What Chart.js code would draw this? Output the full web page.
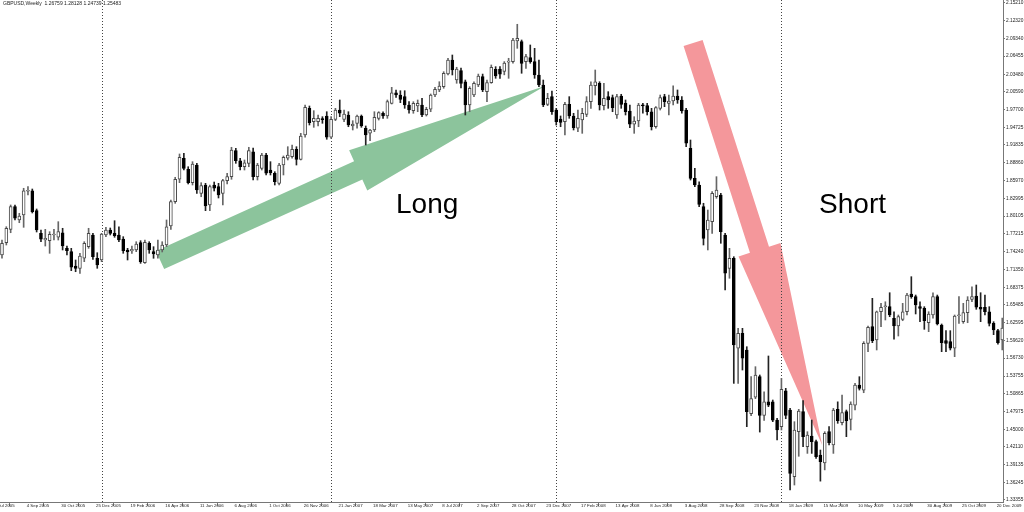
<!DOCTYPE html>
<html>
<head>
<meta charset="utf-8">
<script src="https://cdn.jsdelivr.net/npm/chart.js@4.4.1/dist/chart.umd.min.js"></script>
<style>
  html, body { margin: 0; padding: 0; background: #fff; }
  #wrap { width: 1024px; height: 512px; }
</style>
</head>
<body>
<div id="wrap"><canvas id="grafico" width="1024" height="512"></canvas></div>
<script>
// GBPUSD weekly bars, index 0 = week of 24 Jul 2005
var opens = [
  1.7370,1.7573,1.7793,1.8166,1.7947,1.8029,1.8420,1.8429,1.8100,1.7727,
  1.7617,1.7606,1.7700,1.7662,1.7737,1.7480,1.7425,1.7189,1.7151,1.7316,
  1.7507,1.7700,1.7316,1.7288,1.7700,1.7782,1.7727,1.7700,1.7634,1.7453,
  1.7436,1.7453,1.7573,1.7243,1.7563,1.7425,1.7370,1.7453,1.7535,1.7848,
  1.8248,1.8617,1.8963,1.8782,1.8561,1.8852,1.8386,1.8523,1.8194,1.8523,
  1.8495,1.8386,1.8594,1.8660,1.9088,1.8923,1.8824,1.8880,1.9071,1.8660,
  1.8798,1.9017,1.8770,1.8716,1.8551,1.8852,1.8963,1.8989,1.9111,1.8946,
  1.9347,1.9786,1.9566,1.9566,1.9610,1.9659,1.9309,1.9605,1.9758,1.9605,
  1.9676,1.9495,1.9539,1.9659,1.9457,1.9375,1.9429,1.9621,1.9704,1.9659,
  1.9868,2.0043,2.0005,1.9978,1.9841,1.9747,1.9824,1.9841,1.9676,1.9770,
  2.0005,2.0088,2.0143,2.0352,2.0582,2.0252,2.0406,2.0224,1.9841,2.0005,
  2.0170,2.0307,2.0060,2.0208,2.0429,2.0434,2.0392,2.0544,2.0555,2.0895,
  2.0883,2.0555,2.0620,2.0555,2.0335,2.0170,1.9852,1.9978,1.9758,1.9610,
  1.9566,1.9852,1.9659,1.9457,1.9594,1.9687,1.9895,2.0158,2.0198,1.9829,
  1.9978,1.9962,1.9676,1.9989,1.9868,1.9742,1.9523,1.9577,1.9841,1.9830,
  1.9730,1.9483,1.9786,1.9978,1.9868,1.9906,1.9989,1.9923,1.9758,1.9127,
  1.8633,1.8523,1.8166,1.7782,1.7919,1.8331,1.8358,1.7700,1.7151,1.7316,
  1.5834,1.6081,1.5806,1.4757,1.5029,1.5366,1.4729,1.4952,1.4952,1.4652,
  1.4543,1.5135,1.4817,1.3720,1.4460,1.4790,1.4213,1.4390,1.4296,1.4076,
  1.3944,1.4460,1.4241,1.4829,1.4608,1.4790,1.4664,1.4899,1.5229,1.5146,
  1.5916,1.6190,1.5970,1.6436,1.6518,1.6520,1.6328,1.6201,1.6311,1.6436,
  1.6728,1.6684,1.6519,1.6492,1.6255,1.6382,1.6684,1.6218,1.5959,1.5943,
  1.5834,1.6370,1.6272,1.6420,1.6640,1.6695,1.6509,1.6509,1.6436,1.6245,
  1.6124,1.5970
];
var highs = [
  1.7617,1.7836,1.8194,1.8194,1.8057,1.8469,1.8495,1.8457,1.8128,1.7782,
  1.7793,1.7754,1.7793,1.7919,1.7810,1.7518,1.7480,1.7288,1.7398,1.7589,
  1.7810,1.7727,1.7408,1.7727,1.7826,1.7815,1.7935,1.7836,1.7672,1.7480,
  1.7518,1.7589,1.7606,1.7617,1.7589,1.7507,1.7617,1.7589,1.7947,1.8276,
  1.8650,1.9034,1.9045,1.8824,1.8907,1.8880,1.8561,1.8551,1.8523,1.8572,
  1.8551,1.8617,1.8716,1.9144,1.9127,1.8963,1.8935,1.9144,1.9132,1.8880,
  1.9045,1.9045,1.8907,1.8742,1.8880,1.9001,1.9154,1.9182,1.9154,1.9374,
  1.9841,1.9824,1.9747,1.9676,1.9648,1.9730,1.9648,1.9786,1.9923,1.9758,
  1.9730,1.9582,1.9676,1.9676,1.9495,1.9440,1.9730,1.9730,1.9730,1.9923,
  2.0132,2.0088,2.0076,2.0076,1.9895,1.9895,1.9923,1.9951,1.9803,2.0022,
  2.0132,2.0224,2.0389,2.0610,2.0664,2.0462,2.0450,2.0252,2.0142,2.0224,
  2.0350,2.0350,2.0252,2.0500,2.0472,2.0472,2.0555,2.0610,2.0939,2.1170,
  2.0911,2.0676,2.0829,2.0774,2.0582,2.0252,2.0033,2.0071,1.9786,1.9660,
  1.9885,1.9978,1.9704,1.9758,1.9786,1.9978,2.0224,2.0417,2.0224,2.0198,
  2.0060,2.0005,2.0017,2.0017,1.9923,1.9841,1.9648,1.9868,1.9868,1.9868,
  1.9786,1.9813,2.0005,2.0017,2.0005,2.0158,2.0088,1.9978,1.9786,1.9264,
  1.8798,1.8577,1.8222,1.8111,1.8413,1.8660,1.8386,1.7727,1.7480,1.7342,
  1.6163,1.6163,1.5860,1.5366,1.5531,1.5394,1.5118,1.5707,1.4982,1.4680,
  1.5338,1.5174,1.4844,1.4625,1.4829,1.4971,1.4460,1.4652,1.4323,1.4158,
  1.4460,1.4543,1.4844,1.4952,1.5064,1.4817,1.4952,1.5257,1.5366,1.5943,
  1.6201,1.6657,1.6447,1.6574,1.6600,1.6749,1.6436,1.6382,1.6574,1.6739,
  1.7013,1.6711,1.6600,1.6519,1.6436,1.6749,1.6711,1.6234,1.6124,1.6124,
  1.6382,1.6684,1.6574,1.6684,1.6848,1.6876,1.6749,1.6711,1.6519,1.6272,
  1.6146,1.6333
];
var lows = [
  1.7316,1.7535,1.7737,1.7947,1.7902,1.7826,1.8358,1.8062,1.7749,1.7589,
  1.7518,1.7398,1.7617,1.7617,1.7453,1.7370,1.7112,1.7095,1.7068,1.7260,
  1.7480,1.7299,1.7151,1.7260,1.7672,1.7700,1.7662,1.7589,1.7398,1.7288,
  1.7398,1.7425,1.7233,1.7233,1.7398,1.7316,1.7316,1.7420,1.7507,1.7793,
  1.8221,1.8561,1.8770,1.8540,1.8523,1.8386,1.8330,1.8100,1.8100,1.8424,
  1.8309,1.8194,1.8540,1.8617,1.8880,1.8770,1.8770,1.8824,1.8605,1.8605,
  1.8770,1.8688,1.8688,1.8523,1.8523,1.8688,1.8935,1.8963,1.8852,1.8935,
  1.9309,1.9511,1.9473,1.9495,1.9539,1.9276,1.9292,1.9583,1.9648,1.9566,
  1.9483,1.9429,1.9457,1.9473,1.9182,1.9253,1.9401,1.9593,1.9621,1.9621,
  1.9857,1.9967,1.9879,1.9786,1.9704,1.9704,1.9730,1.9648,1.9659,1.9730,
  1.9978,2.0060,2.0116,2.0335,2.0335,2.0198,2.0121,1.9676,1.9730,1.9978,
  2.0142,2.0060,1.9895,2.0198,2.0280,2.0280,2.0337,2.0280,2.0528,2.0774,
  2.0363,2.0445,2.0528,2.0280,2.0142,1.9813,1.9829,1.9687,1.9511,1.9483,
  1.9347,1.9621,1.9429,1.9401,1.9374,1.9648,1.9786,2.0005,1.9758,1.9758,
  1.9786,1.9730,1.9621,1.9786,1.9676,1.9467,1.9374,1.9483,1.9704,1.9676,
  1.9429,1.9457,1.9758,1.9813,1.9676,1.9841,1.9868,1.9704,1.9154,1.8605,
  1.8495,1.8166,1.7535,1.7453,1.7727,1.8304,1.7563,1.6794,1.6987,1.5256,
  1.5256,1.5476,1.4543,1.4725,1.5004,1.4454,1.4647,1.4872,1.4625,1.4323,
  1.4488,1.4674,1.3500,1.3582,1.4055,1.4213,1.4103,1.4103,1.4021,1.3646,
  1.3831,1.4241,1.4103,1.4598,1.4570,1.4378,1.4488,1.4817,1.5146,1.5102,
  1.5778,1.5926,1.5806,1.6190,1.6300,1.6354,1.5982,1.6036,1.6288,1.6382,
  1.6657,1.6399,1.6272,1.6146,1.6107,1.6328,1.6218,1.5778,1.5778,1.5806,
  1.5696,1.6245,1.6245,1.6255,1.6600,1.6476,1.6272,1.6382,1.6201,1.6058,
  1.5901,1.5806
];
var closes = [
  1.7563,1.7810,1.8166,1.7975,1.8012,1.8429,1.8435,1.8083,1.7782,1.7629,
  1.7645,1.7711,1.7712,1.7754,1.7518,1.7441,1.7168,1.7151,1.7354,1.7563,
  1.7727,1.7342,1.7206,1.7716,1.7782,1.7727,1.7688,1.7617,1.7441,1.7420,
  1.7464,1.7551,1.7260,1.7579,1.7453,1.7387,1.7453,1.7535,1.7836,1.8248,
  1.8617,1.8979,1.8798,1.8561,1.8869,1.8441,1.8512,1.8177,1.8495,1.8469,
  1.8358,1.8594,1.8660,1.9100,1.8923,1.8824,1.8890,1.9088,1.8660,1.8852,
  1.9017,1.8716,1.8726,1.8577,1.8852,1.8979,1.9017,1.9111,1.8946,1.9330,
  1.9803,1.9549,1.9622,1.9622,1.9600,1.9309,1.9605,1.9758,1.9704,1.9692,
  1.9511,1.9528,1.9659,1.9495,1.9347,1.9429,1.9638,1.9714,1.9659,1.9895,
  2.0043,2.0005,1.9934,1.9841,1.9758,1.9868,1.9868,1.9676,1.9770,2.0005,
  2.0099,2.0154,2.0363,2.0582,2.0417,2.0434,2.0198,1.9841,2.0116,2.0198,
  2.0318,2.0088,2.0208,2.0462,2.0319,2.0347,2.0529,2.0565,2.0911,2.0939,
  2.0527,2.0636,2.0555,2.0335,2.0170,1.9841,1.9951,1.9730,1.9566,1.9555,
  1.9852,1.9659,1.9466,1.9621,1.9704,1.9895,2.0170,2.0224,1.9841,1.9951,
  1.9923,1.9796,1.9978,1.9852,1.9730,1.9523,1.9577,1.9841,1.9825,1.9730,
  1.9483,1.9796,1.9961,1.9895,1.9906,1.9989,1.9923,1.9742,1.9210,1.8633,
  1.8523,1.8205,1.7645,1.7947,1.8386,1.8441,1.7754,1.7069,1.7316,1.5888,
  1.6081,1.5669,1.4790,1.5004,1.5394,1.4729,1.4952,1.4899,1.4652,1.4488,
  1.5157,1.4729,1.3775,1.4488,1.4801,1.4378,1.4406,1.4296,1.4049,1.3966,
  1.4433,1.4279,1.4817,1.4641,1.4773,1.4641,1.4916,1.5229,1.5174,1.5916,
  1.6179,1.5959,1.6436,1.6509,1.6520,1.6382,1.6201,1.6354,1.6436,1.6711,
  1.6684,1.6547,1.6492,1.6288,1.6399,1.6684,1.6234,1.5926,1.5916,1.5834,
  1.6366,1.6380,1.6420,1.6629,1.6684,1.6509,1.6476,1.6436,1.6245,1.6135,
  1.5926,1.6168
];

// date labels, one every 8 weeks starting 2 weeks before bar 0
var tickDates = [
  "10 Jul 2005","4 Sep 2005","30 Oct 2005","25 Dec 2005","19 Feb 2006","16 Apr 2006",
  "11 Jun 2006","6 Aug 2006","1 Oct 2006","26 Nov 2006","21 Jan 2007","18 Mar 2007",
  "13 May 2007","8 Jul 2007","2 Sep 2007","28 Oct 2007","23 Dec 2007","17 Feb 2008",
  "13 Apr 2008","8 Jun 2008","3 Aug 2008","28 Sep 2008","23 Nov 2008","18 Jan 2009",
  "15 Mar 2009","10 May 2009","5 Jul 2009","30 Aug 2009","25 Oct 2009","20 Dec 2009"
];
var firstTickWeek = -2;
var tickStep = 8;

// price labels on the right axis
var priceTicks = [
  "2.15210","2.12320","2.09340","2.06455","2.03480","2.00590","1.97700","1.94725",
  "1.91835","1.88860","1.85970","1.82995","1.80105","1.77215","1.74240","1.71350",
  "1.68375","1.65485","1.62595","1.59620","1.56730","1.53755","1.50865","1.47975",
  "1.45000","1.42110","1.39135","1.36245","1.33355"
];

// first bar of each new year (period separators)
var yearStarts = [23, 76, 128, 180];

// hand drawn arrows and labels, in [week, price]
var arrowLong = { from: [36.5, 1.7288], to: [125.4, 2.0154], color: "#8cc49c" };
var arrowShort = { from: [159.6, 2.0862], to: [189.4, 1.4241], color: "#f4979b" };
var textLong = { text: "Long", at: [91.0, 1.8062] };
var textShort = { text: "Short", at: [188.7, 1.8062] };

var titleText = "GBPUSD,Weekly  1.26759 1.28128 1.24739 1.25483";

var bodies = [], wicks = [], bodyFill = [], bodyEdge = [], wickColor = [];
for (var i = 0; i < opens.length; i++) {
  var up = closes[i] >= opens[i];
  bodies.push({ x: i, y: [opens[i], closes[i]] });
  wicks.push({ x: i, y: [lows[i], highs[i]] });
  bodyFill.push(up ? "#ffffff" : "#000000");
  bodyEdge.push(up ? "#4a4a4a" : "#000000");
  wickColor.push(up ? "#666666" : "#222222");
}

function drawArrow(ctx, p0, p1, shaftHalf, headHalf, headLen, color) {
  var dx = p1[0] - p0[0], dy = p1[1] - p0[1];
  var len = Math.sqrt(dx * dx + dy * dy);
  var ux = dx / len, uy = dy / len, nx = -uy, ny = ux;
  var bx = p1[0] - ux * headLen, by = p1[1] - uy * headLen;
  ctx.beginPath();
  ctx.moveTo(p0[0] + nx * shaftHalf, p0[1] + ny * shaftHalf);
  ctx.lineTo(bx + nx * shaftHalf, by + ny * shaftHalf);
  ctx.lineTo(bx + nx * headHalf, by + ny * headHalf);
  ctx.lineTo(p1[0], p1[1]);
  ctx.lineTo(bx - nx * headHalf, by - ny * headHalf);
  ctx.lineTo(bx - nx * shaftHalf, by - ny * shaftHalf);
  ctx.lineTo(p0[0] - nx * shaftHalf, p0[1] - ny * shaftHalf);
  ctx.closePath();
  ctx.fillStyle = color;
  ctx.fill();
}

var decoraciones = {
  id: "decoraciones",
  beforeDatasetsDraw: function (chart) {
    var ctx = chart.ctx, sx = chart.scales.x, sy = chart.scales.y, a = chart.chartArea;
    ctx.save();
    ctx.beginPath();
    ctx.rect(a.left, a.top, a.right - a.left, a.bottom - a.top);
    ctx.clip();
    [arrowLong, arrowShort].forEach(function (ar) {
      var p0 = [sx.getPixelForValue(ar.from[0]), sy.getPixelForValue(ar.from[1])];
      var p1 = [sx.getPixelForValue(ar.to[0]), sy.getPixelForValue(ar.to[1])];
      drawArrow(ctx, p0, p1, 10, 22, 205, ar.color);
    });
    // dotted year separators
    ctx.setLineDash([1, 2]);
    ctx.strokeStyle = "#444";
    ctx.lineWidth = 1;
    yearStarts.forEach(function (w) {
      var px = Math.round(sx.getPixelForValue(w)) + 0.5;
      ctx.beginPath();
      ctx.moveTo(px, a.top);
      ctx.lineTo(px, a.bottom);
      ctx.stroke();
    });
    ctx.restore();
  },
  afterDraw: function (chart) {
    var ctx = chart.ctx, sx = chart.scales.x, sy = chart.scales.y;
    ctx.save();
    ctx.fillStyle = "#000";
    ctx.font = '28px "Liberation Sans", Arial, sans-serif';
    ctx.textBaseline = "alphabetic";
    [textLong, textShort].forEach(function (t) {
      ctx.fillText(t.text, sx.getPixelForValue(t.at[0]), sy.getPixelForValue(t.at[1]));
    });
    ctx.font = '5px "Liberation Sans", Arial, sans-serif';
    ctx.fillStyle = "#222";
    ctx.textBaseline = "middle";
    ctx.fillText(titleText, 3, 4);
    ctx.restore();
  }
};

var ctx = document.getElementById("grafico").getContext("2d");
var grafico = new Chart(ctx, {
  type: "bar",
  data: {
    datasets: [
      {
        data: bodies,
        backgroundColor: bodyFill,
        borderColor: bodyEdge,
        borderWidth: 1,
        borderSkipped: false,
        barThickness: 3,
        minBarLength: 1,
        grouped: false,
        order: 0
      },
      {
        data: wicks,
        backgroundColor: wickColor,
        borderWidth: 0,
        barThickness: 1,
        grouped: false,
        order: 1
      }
    ]
  },
  options: {
    responsive: false,
    animation: false,
    layout: { padding: 0 },
    plugins: { legend: { display: false }, tooltip: { enabled: false }, title: { display: false } },
    scales: {
      x: {
        type: "linear",
        min: -0.46,
        max: 231.17,
        offset: false,
        afterFit: function (s) {
          s.height = 10;
          s.paddingLeft = 0; s.paddingRight = 0; s.paddingTop = 0; s.paddingBottom = 0;
        },
        afterBuildTicks: function (s) {
          s.ticks = tickDates.map(function (d, k) { return { value: firstTickWeek + k * tickStep - 0.3 }; });
        },
        grid: { drawOnChartArea: false, drawTicks: true, tickLength: 4, color: "#777" },
        border: { display: true, color: "#777" },
        ticks: {
          autoSkip: false,
          maxRotation: 0,
          minRotation: 0,
          align: "start",
          padding: -3,
          color: "#222",
          font: { family: '"Liberation Sans", Arial, sans-serif', size: 4.4 },
          callback: function (v, k) { return tickDates[k]; }
        }
      },
      y: {
        position: "right",
        min: 1.33023,
        max: 2.15698,
        afterFit: function (s) {
          s.width = 21;
          s.paddingLeft = 0; s.paddingRight = 0; s.paddingTop = 0; s.paddingBottom = 0;
        },
        afterBuildTicks: function (s) {
          s.ticks = priceTicks.map(function (p) { return { value: parseFloat(p) }; });
        },
        grid: { drawOnChartArea: false, drawTicks: true, tickLength: 2, color: "#777" },
        border: { display: true, color: "#777" },
        ticks: {
          autoSkip: false,
          padding: 1,
          color: "#222",
          font: { family: '"Liberation Sans", Arial, sans-serif', size: 4.8 },
          callback: function (v) { return v.toFixed(5); }
        }
      }
    }
  },
  plugins: [decoraciones]
});
</script>
</body>
</html>
